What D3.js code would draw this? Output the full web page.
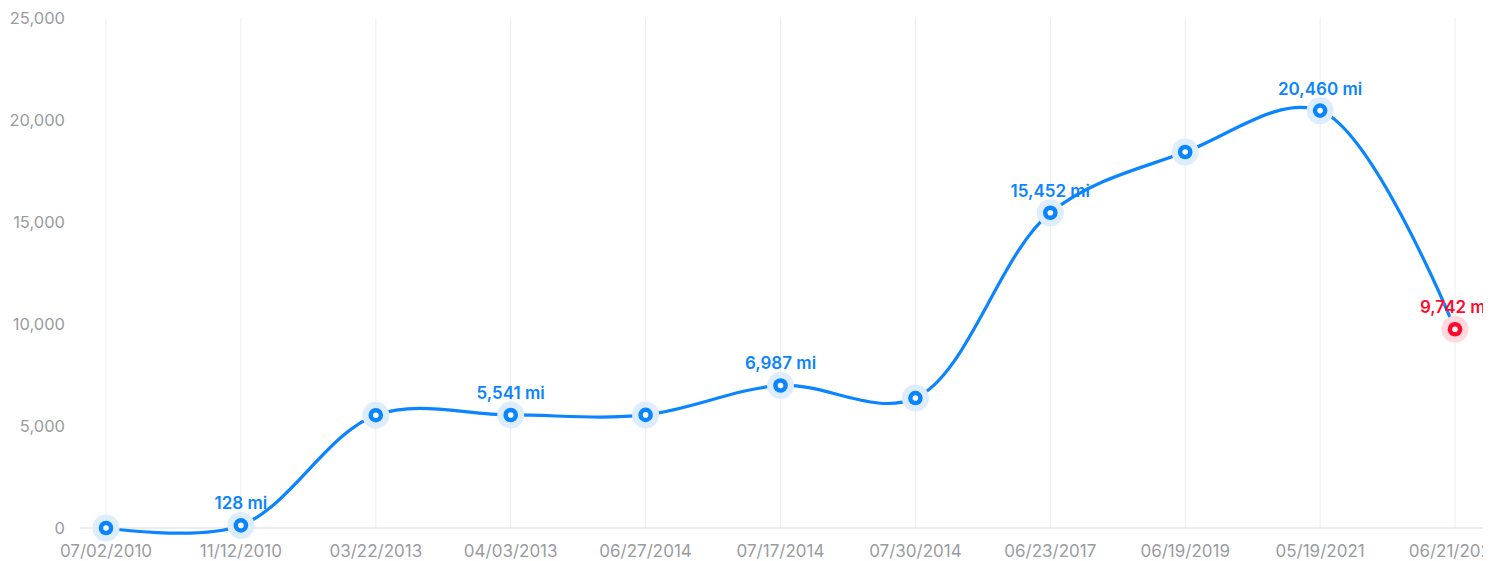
<!DOCTYPE html>
<html>
<head>
<meta charset="utf-8">
<script src="https://cdn.jsdelivr.net/npm/d3@7"></script>
<style>
  body { margin: 0; background: #fff; font-family: Inter, "Noto Sans", sans-serif; }
  svg { display: block; }
</style>
</head>
<body>
<script>
// data
const dates = ["07/02/2010", "11/12/2010", "03/22/2013", "04/03/2013", "06/27/2014",
               "07/17/2014", "07/30/2014", "06/23/2017", "06/19/2019", "05/19/2021", "06/21/2022"];
const miles = [0, 128, 5530, 5541, 5545, 6987, 6370, 15452, 18430, 20460, 9742];
const labelled = [false, true, false, true, false, true, false, true, false, true, true];
const yTicks = [0, 5000, 10000, 15000, 20000, 25000];

const W = 1483, H = 561;
const plotLeft = 80, plotRight = 1483, plotTop = 18, plotBottom = 528;

const svg = d3.select("body").append("svg")
    .attr("width", W)
    .attr("height", H);

const x = d3.scalePoint()
    .domain(dates)
    .range([106, 1455]);

const y = d3.scaleLinear()
    .domain([0, 25000])
    .range([plotBottom, plotTop]);

// vertical grid lines
svg.append("g")
  .selectAll("line")
  .data(dates)
  .join("line")
    .attr("x1", d => x(d)).attr("x2", d => x(d))
    .attr("y1", plotTop).attr("y2", plotBottom)
    .attr("stroke", "#ebedf0")
    .attr("stroke-width", 1);

// bottom axis line
svg.append("line")
    .attr("x1", plotLeft).attr("x2", plotRight)
    .attr("y1", plotBottom).attr("y2", plotBottom)
    .attr("stroke", "#d9dbde");

// y labels
svg.append("g")
  .selectAll("text")
  .data(yTicks)
  .join("text")
    .attr("x", 65)
    .attr("y", d => y(d))
    .attr("dy", "0.35em")
    .attr("text-anchor", "end")
    .attr("fill", "#999ca1")
    .style("font-size", "16.5px")
    .text(d => d3.format(",")(d));

// x labels
svg.append("g")
  .selectAll("text")
  .data(dates)
  .join("text")
    .attr("x", d => x(d))
    .attr("y", 551)
    .attr("dy", "0.35em")
    .attr("text-anchor", "middle")
    .attr("fill", "#999ca1")
    .style("font-size", "17px")
    .text(d => d);

const pts = dates.map((d, i) => ({ date: d, v: miles[i], lab: labelled[i], last: i === dates.length - 1 }));

// the line
svg.append("path")
    .datum(pts)
    .attr("fill", "none")
    .attr("stroke", "#0a84ff")
    .attr("stroke-width", 3.2)
    .attr("d", d3.line()
      .curve(d3.curveCatmullRom.alpha(0.5))
      .x(d => x(d.date))
      .y(d => y(d.v)));

// markers
const mk = svg.append("g")
  .selectAll("g")
  .data(pts)
  .join("g")
    .attr("transform", d => "translate(" + x(d.date) + "," + y(d.v) + ")");

mk.append("circle").attr("r", 13.5).attr("fill", d => d.last ? "#ffd9de" : "#ddedfd");
mk.append("circle").attr("r", 7.3).attr("fill", d => d.last ? "#ff0a2a" : "#0a84ff");
mk.append("circle").attr("r", 2.8).attr("fill", "#fff");

// value labels
svg.append("g")
  .selectAll("text")
  .data(pts.filter(d => d.lab))
  .join("text")
    .attr("x", d => x(d.date))
    .attr("y", d => y(d.v) - 16)
    .attr("text-anchor", "middle")
    .attr("fill", d => d.last ? "#ff0a2a" : "#0a84ff")
    .style("font-size", "17px")
    .style("font-weight", "600")
    .text(d => d3.format(",")(d.v) + " mi");
</script>
</body>
</html>
